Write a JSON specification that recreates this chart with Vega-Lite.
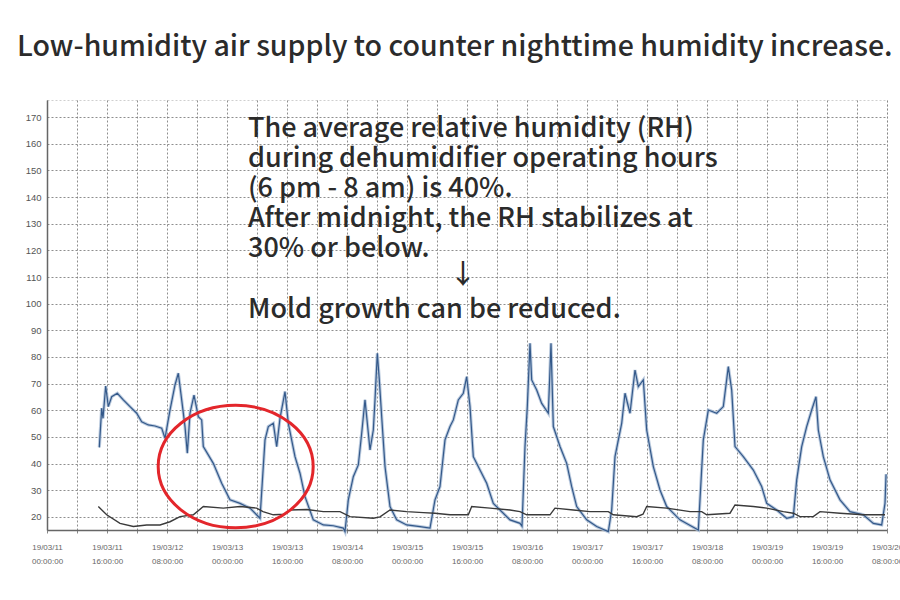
{
  "$schema": "https://vega.github.io/schema/vega-lite/v6.json",
  "width": 840,
  "height": 430,
  "autosize": "none",
  "padding": {"left": 47, "top": 100, "right": 13, "bottom": 70},
  "background": "white",
  "title": {
    "text": "Low-humidity air supply to counter nighttime humidity increase.",
    "anchor": "start", "frame": "group", "dx": -30, "offset": 39,
    "fontSize": 28.5, "font": "Noto Sans CJK JP", "fontWeight": 500, "color": "#2b2b2b"
  },
  "config": {"view": {"stroke": "#cfcfcf", "strokeDash": [2, 2]}, "font": "Liberation Sans"},
  "datasets": {
    "rh": [
      {"t":"2019-03-11T13:57","v":46.1},{"t":"2019-03-11T14:35","v":60.8},{"t":"2019-03-11T14:56","v":57},{"t":"2019-03-11T15:39","v":69.1},
      {"t":"2019-03-11T16:21","v":61.4},{"t":"2019-03-11T17:15","v":65.1},{"t":"2019-03-11T18:45","v":66.4},{"t":"2019-03-11T20:21","v":63.9},
      {"t":"2019-03-11T22:08","v":61.4},{"t":"2019-03-11T23:55","v":58.9},{"t":"2019-03-12T01:15","v":55.7},{"t":"2019-03-12T03:01","v":54.5},
      {"t":"2019-03-12T04:48","v":54.1},{"t":"2019-03-12T06:35","v":53.3},{"t":"2019-03-12T07:28","v":49.5},{"t":"2019-03-12T08:48","v":60.1},
      {"t":"2019-03-12T10:08","v":69.5},{"t":"2019-03-12T11:01","v":73.9},{"t":"2019-03-12T11:55","v":63.9},{"t":"2019-03-12T12:48","v":53.9},
      {"t":"2019-03-12T13:25","v":43.9},{"t":"2019-03-12T14:08","v":58.9},{"t":"2019-03-12T15:12","v":65.7},{"t":"2019-03-12T16:21","v":57.6},
      {"t":"2019-03-12T17:15","v":56.4},{"t":"2019-03-12T17:41","v":46.4},{"t":"2019-03-12T20:21","v":40.1},{"t":"2019-03-12T22:35","v":32.6},
      {"t":"2019-03-13T00:48","v":26.4},{"t":"2019-03-13T03:28","v":25.1},{"t":"2019-03-13T06:08","v":23.3},{"t":"2019-03-13T08:48","v":19.5},
      {"t":"2019-03-13T10:08","v":48.9},{"t":"2019-03-13T11:01","v":53.9},{"t":"2019-03-13T12:21","v":55.1},{"t":"2019-03-13T13:15","v":46.4},
      {"t":"2019-03-13T14:08","v":57},{"t":"2019-03-13T15:28","v":67},{"t":"2019-03-13T16:21","v":55.1},{"t":"2019-03-13T18:08","v":42.6},
      {"t":"2019-03-13T19:28","v":36.4},{"t":"2019-03-13T20:48","v":27.6},{"t":"2019-03-13T23:01","v":18.9},{"t":"2019-03-14T01:41","v":17},
      {"t":"2019-03-14T04:21","v":16.7},{"t":"2019-03-14T07:01","v":15.8},{"t":"2019-03-14T07:28","v":14.5},{"t":"2019-03-14T08:21","v":26.4},
      {"t":"2019-03-14T09:41","v":35.1},{"t":"2019-03-14T11:01","v":39.5},{"t":"2019-03-14T11:55","v":51.4},{"t":"2019-03-14T12:48","v":63.9},
      {"t":"2019-03-14T14:08","v":45.1},{"t":"2019-03-14T15:01","v":52.6},{"t":"2019-03-14T15:28","v":63.9},{"t":"2019-03-14T16:05","v":81.4},
      {"t":"2019-03-14T16:37","v":71.4},{"t":"2019-03-14T17:15","v":57.6},{"t":"2019-03-14T18:08","v":38.9},{"t":"2019-03-14T19:28","v":23.9},
      {"t":"2019-03-14T21:15","v":18.9},{"t":"2019-03-14T23:55","v":17},{"t":"2019-03-15T03:28","v":16.4},{"t":"2019-03-15T06:08","v":15.8},
      {"t":"2019-03-15T07:28","v":26.4},{"t":"2019-03-15T08:48","v":31.4},{"t":"2019-03-15T10:08","v":48.9},{"t":"2019-03-15T11:28","v":53.9},
      {"t":"2019-03-15T12:21","v":56.4},{"t":"2019-03-15T13:41","v":63.9},{"t":"2019-03-15T15:01","v":66.4},{"t":"2019-03-15T15:55","v":72.6},
      {"t":"2019-03-15T16:48","v":61.4},{"t":"2019-03-15T17:41","v":42.6},{"t":"2019-03-15T19:28","v":37.6},{"t":"2019-03-15T21:15","v":32.6},
      {"t":"2019-03-15T23:01","v":25.1},{"t":"2019-03-16T00:48","v":22.6},{"t":"2019-03-16T03:28","v":18.9},{"t":"2019-03-16T06:08","v":17.6},
      {"t":"2019-03-16T06:40","v":16.5},{"t":"2019-03-16T07:28","v":46.4},{"t":"2019-03-16T08:05","v":61.4},{"t":"2019-03-16T08:48","v":85.1},
      {"t":"2019-03-16T09:15","v":71.4},{"t":"2019-03-16T10:35","v":67.6},{"t":"2019-03-16T11:55","v":62.6},{"t":"2019-03-16T13:41","v":58.9},
      {"t":"2019-03-16T14:24","v":85.1},{"t":"2019-03-16T15:01","v":53.9},{"t":"2019-03-16T16:48","v":46.4},{"t":"2019-03-16T18:35","v":40.1},
      {"t":"2019-03-16T19:55","v":31.4},{"t":"2019-03-16T21:15","v":23.9},{"t":"2019-03-16T23:55","v":18.9},{"t":"2019-03-17T02:35","v":16.4},
      {"t":"2019-03-17T05:41","v":14.5},{"t":"2019-03-17T06:35","v":22.6},{"t":"2019-03-17T07:28","v":42.6},{"t":"2019-03-17T09:15","v":55.1},
      {"t":"2019-03-17T10:08","v":66.4},{"t":"2019-03-17T11:28","v":58.9},{"t":"2019-03-17T12:48","v":75.1},{"t":"2019-03-17T13:41","v":68.9},
      {"t":"2019-03-17T15:01","v":71.4},{"t":"2019-03-17T15:55","v":52.6},{"t":"2019-03-17T17:41","v":38.9},{"t":"2019-03-17T19:28","v":30.1},
      {"t":"2019-03-17T21:15","v":23.9},{"t":"2019-03-18T00:48","v":18.9},{"t":"2019-03-18T05:41","v":15.1},{"t":"2019-03-18T07:01","v":48.9},
      {"t":"2019-03-18T08:21","v":60.1},{"t":"2019-03-18T10:35","v":58.9},{"t":"2019-03-18T12:21","v":61.4},{"t":"2019-03-18T13:41","v":76.4},
      {"t":"2019-03-18T14:35","v":67.6},{"t":"2019-03-18T15:28","v":46.4},{"t":"2019-03-18T17:41","v":42.6},{"t":"2019-03-18T20:21","v":37.6},
      {"t":"2019-03-18T22:35","v":31.4},{"t":"2019-03-18T23:55","v":25.1},{"t":"2019-03-19T02:35","v":22.6},{"t":"2019-03-19T05:15","v":19.5},
      {"t":"2019-03-19T07:01","v":20.1},{"t":"2019-03-19T07:55","v":33.9},{"t":"2019-03-19T09:15","v":46.4},{"t":"2019-03-19T10:35","v":53.9},
      {"t":"2019-03-19T11:55","v":60.1},{"t":"2019-03-19T13:04","v":65.1},{"t":"2019-03-19T13:41","v":52.6},{"t":"2019-03-19T15:01","v":42.6},
      {"t":"2019-03-19T16:48","v":33.9},{"t":"2019-03-19T19:28","v":26.4},{"t":"2019-03-19T22:08","v":22},{"t":"2019-03-20T01:41","v":20.8},
      {"t":"2019-03-20T04:21","v":17.6},{"t":"2019-03-20T06:35","v":17},{"t":"2019-03-20T07:28","v":25.1},{"t":"2019-03-20T07:45","v":36}
    ],
    "temp": [
      {"t":"2019-03-11T13:41","v":23.9},{"t":"2019-03-11T15:55","v":20.8},{"t":"2019-03-11T19:28","v":17.6},{"t":"2019-03-11T23:01","v":16.4},
      {"t":"2019-03-12T02:35","v":17},{"t":"2019-03-12T06:08","v":17},{"t":"2019-03-12T08:48","v":18.2},{"t":"2019-03-12T11:28","v":20.1},
      {"t":"2019-03-12T15:01","v":20.8},{"t":"2019-03-12T17:41","v":23.9},{"t":"2019-03-12T23:01","v":23.3},{"t":"2019-03-13T03:28","v":23.9},
      {"t":"2019-03-13T07:55","v":23.3},{"t":"2019-03-13T09:36","v":22},{"t":"2019-03-13T12:21","v":20.8},{"t":"2019-03-13T15:28","v":21},
      {"t":"2019-03-13T16:48","v":22.6},{"t":"2019-03-13T21:15","v":22.8},{"t":"2019-03-14T01:41","v":22},{"t":"2019-03-14T06:08","v":22},
      {"t":"2019-03-14T08:48","v":20.1},{"t":"2019-03-14T15:01","v":19.5},{"t":"2019-03-14T16:48","v":20},{"t":"2019-03-14T19:28","v":22.6},
      {"t":"2019-03-14T23:55","v":22},{"t":"2019-03-15T04:21","v":21.6},{"t":"2019-03-15T07:28","v":21.4},{"t":"2019-03-15T11:28","v":20.8},
      {"t":"2019-03-15T16:21","v":20.8},{"t":"2019-03-15T17:15","v":23.9},{"t":"2019-03-15T22:08","v":23.3},{"t":"2019-03-16T03:28","v":22.6},
      {"t":"2019-03-16T06:08","v":22},{"t":"2019-03-16T07:55","v":20.8},{"t":"2019-03-16T14:08","v":20.8},{"t":"2019-03-16T15:28","v":23.3},
      {"t":"2019-03-16T20:21","v":22.6},{"t":"2019-03-17T00:48","v":22},{"t":"2019-03-17T05:41","v":22},{"t":"2019-03-17T07:01","v":20.8},
      {"t":"2019-03-17T13:15","v":20.1},{"t":"2019-03-17T14:56","v":21},{"t":"2019-03-17T15:55","v":23.9},{"t":"2019-03-17T21:15","v":23.3},
      {"t":"2019-03-18T03:28","v":22},{"t":"2019-03-18T06:35","v":22},{"t":"2019-03-18T07:55","v":20.8},{"t":"2019-03-18T14:08","v":21.4},
      {"t":"2019-03-18T15:28","v":24.5},{"t":"2019-03-18T20:21","v":23.9},{"t":"2019-03-18T23:55","v":23.3},{"t":"2019-03-19T04:21","v":22},
      {"t":"2019-03-19T07:01","v":21.4},{"t":"2019-03-19T08:48","v":20.1},{"t":"2019-03-19T12:21","v":20.1},{"t":"2019-03-19T14:08","v":22},
      {"t":"2019-03-19T19:28","v":21.4},{"t":"2019-03-20T01:41","v":20.8},{"t":"2019-03-20T07:28","v":20.8}
    ],
    "circle": [{"t":"2019-03-13T02:19","v":38.9}],
    "notes": [
      {"t":"2019-03-13T05:36","v":162.5,"label":"The average relative humidity (RH)\nduring dehumidifier operating hours\n(6 pm - 8 am) is 40%.\nAfter midnight, the RH stabilizes at\n30% or below."},
      {"t":"2019-03-15T11:20","v":107.3,"label":"↓"},
      {"t":"2019-03-13T05:36","v":94.6,"label":"Mold growth can be reduced."}
    ]
  },
  "encoding": {
    "x": {
      "field": "t", "type": "temporal",
      "scale": {"domain": ["2019-03-11T00:00", "2019-03-20T08:00"]},
      "axis": {
        "title": null,
        "values": [
          "2019-03-11T00:00","2019-03-11T08:00","2019-03-11T16:00","2019-03-12T00:00","2019-03-12T08:00","2019-03-12T16:00",
          "2019-03-13T00:00","2019-03-13T08:00","2019-03-13T16:00","2019-03-14T00:00","2019-03-14T08:00","2019-03-14T16:00",
          "2019-03-15T00:00","2019-03-15T08:00","2019-03-15T16:00","2019-03-16T00:00","2019-03-16T08:00","2019-03-16T16:00",
          "2019-03-17T00:00","2019-03-17T08:00","2019-03-17T16:00","2019-03-18T00:00","2019-03-18T08:00","2019-03-18T16:00",
          "2019-03-19T00:00","2019-03-19T08:00","2019-03-19T16:00","2019-03-20T00:00","2019-03-20T08:00"
        ],
        "labelExpr": "((date(datum.value) - 11) * 24 + hours(datum.value)) % 16 == 0 ? [timeFormat(datum.value, '%y/%m/%d'), timeFormat(datum.value, '%H:%M:%S')] : ''",
        "labelFontSize": 8, "labelColor": "#666", "labelPadding": 10, "labelLineHeight": 14,
        "labelOverlap": false, "labelFlush": false, "labelBound": false,
        "grid": true, "gridColor": "#7a7a7a", "gridDash": [2, 2], "gridOpacity": 0.85,
        "domainColor": "#666", "domainWidth": 1.5, "tickColor": "#888", "tickSize": 3
      }
    },
    "y": {
      "field": "v", "type": "quantitative",
      "scale": {"domain": [15.1, 176.4], "nice": false, "zero": false},
      "axis": {
        "title": null, "values": [20,30,40,50,60,70,80,90,100,110,120,130,140,150,160,170],
        "labelFontSize": 9.5, "labelColor": "#555", "labelPadding": 6, "ticks": false,
        "grid": true, "gridColor": "#7a7a7a", "gridDash": [2, 2], "gridOpacity": 0.85,
        "domainColor": "#666", "domainWidth": 1.5
      }
    }
  },
  "layer": [
    {"data": {"name": "rh"}, "mark": {"type": "line", "color": "#a9bdd6", "strokeWidth": 3.2, "opacity": 0.8}},
    {"data": {"name": "rh"}, "mark": {"type": "line", "color": "#34598a", "strokeWidth": 1.2}},
    {"data": {"name": "temp"}, "mark": {"type": "line", "color": "#3a3a3a", "strokeWidth": 1.4}},
    {"data": {"name": "circle"}, "mark": {"type": "point", "shape": "M -1 0 A 1 0.79 0 1 0 1 0 A 1 0.79 0 1 0 -1 0 Z", "filled": false, "color": "#e3262b", "strokeWidth": 3, "size": 24025, "opacity": 1}},
    {"data": {"name": "notes"}, "mark": {"type": "text", "align": "left", "baseline": "alphabetic", "lineBreak": "\n", "lineHeight": 30, "font": "Noto Sans CJK JP", "fontSize": 27, "fontWeight": 500, "color": "#2b2b2b"}, "encoding": {"text": {"field": "label"}}}
  ]
}
